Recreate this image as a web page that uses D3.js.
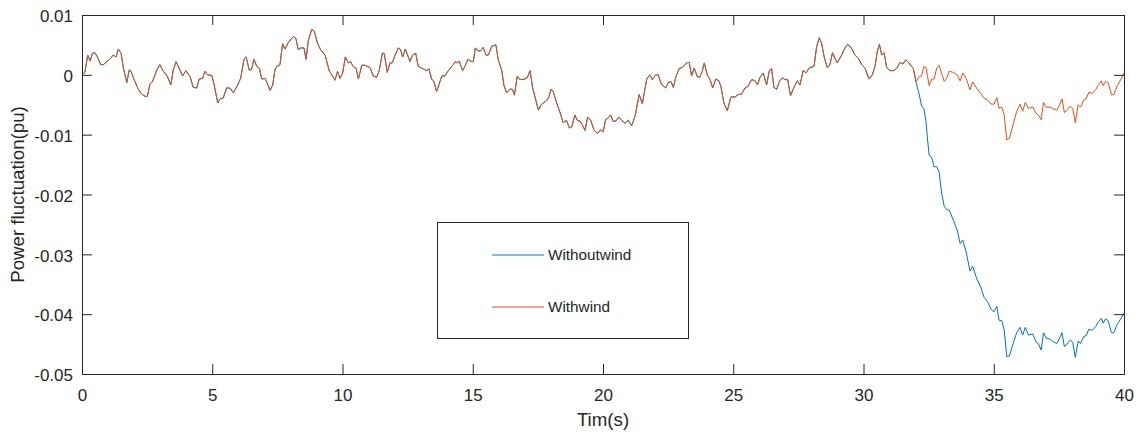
<!DOCTYPE html>
<html lang="en">
<head>
    <meta charset="UTF-8">
    <title>Power fluctuation</title>
    <script src="https://cdn.jsdelivr.net/npm/d3@7"></script>
    <style>
        body { margin: 0; background: #fff; }
        text { font-family: "Liberation Sans", Arial, Helvetica, sans-serif; fill: #262626; }
    </style>
</head>
<body>
<script>
    // shared part: both curves are the same until ~32 s
    let sharedTime = [0, 0.11, 0.22, 0.31, 0.4, 0.5, 0.59, 0.72, 0.82, 0.95, 1.07, 1.2, 1.31, 1.39, 1.5, 1.59, 1.72, 1.81, 1.88, 2.0,
        2.16, 2.29, 2.42, 2.51, 2.61, 2.71, 2.87, 2.99, 3.12, 3.27, 3.41, 3.5, 3.61, 3.73, 3.86, 3.99, 4.15, 4.27, 4.4, 4.5,
        4.63, 4.72, 4.82, 4.98, 5.06, 5.21, 5.3, 5.42, 5.55, 5.68, 5.81, 5.94, 6.09, 6.22, 6.3, 6.42, 6.51, 6.6, 6.71, 6.81,
        6.9, 7.03, 7.11, 7.22, 7.32, 7.41, 7.5, 7.6, 7.7, 7.79, 7.92, 8.11, 8.21, 8.3, 8.4, 8.52, 8.6, 8.69, 8.82, 8.92,
        9.03, 9.16, 9.33, 9.49, 9.71, 9.81, 9.9, 10.0, 10.11, 10.22, 10.31, 10.41, 10.52, 10.61, 10.74, 10.86, 11.06, 11.18, 11.31, 11.41,
        11.53, 11.6, 11.72, 11.82, 11.91, 12.02, 12.14, 12.23, 12.31, 12.41, 12.5, 12.59, 12.69, 12.81, 12.91, 13.1, 13.23, 13.32, 13.42, 13.51,
        13.61, 13.7, 13.81, 13.93, 14.06, 14.25, 14.32, 14.41, 14.48, 14.61, 14.7, 14.81, 14.92, 15.02, 15.1, 15.21, 15.3, 15.4, 15.51, 15.6,
        15.73, 15.89, 15.98, 16.11, 16.2, 16.3, 16.43, 16.52, 16.6, 16.71, 16.81, 17.0, 17.09, 17.2, 17.3, 17.52, 17.62, 17.84, 17.93, 18.0,
        18.09, 18.22, 18.35, 18.47, 18.6, 18.71, 18.8, 18.92, 19.01, 19.14, 19.31, 19.41, 19.53, 19.65, 19.78, 19.91, 20.01, 20.1, 20.2, 20.29,
        20.39, 20.5, 20.6, 20.72, 20.84, 20.97, 21.1, 21.23, 21.39, 21.51, 21.68, 21.8, 21.89, 22.02, 22.12, 22.23, 22.41, 22.51, 22.61, 22.7,
        22.8, 22.93, 23.04, 23.21, 23.31, 23.4, 23.5, 23.62, 23.72, 23.81, 23.89, 24.0, 24.11, 24.21, 24.33, 24.45, 24.53, 24.64, 24.77, 24.91,
        25.07, 25.19, 25.32, 25.45, 25.55, 25.71, 25.84, 25.93, 26.03, 26.15, 26.28, 26.38, 26.47, 26.56, 26.67, 26.77, 26.88, 26.99, 27.09, 27.2,
        27.33, 27.46, 27.56, 27.69, 27.79, 27.92, 28.1, 28.2, 28.3, 28.39, 28.49, 28.61, 28.71, 28.81, 28.9, 28.99, 29.16, 29.29, 29.39, 29.52,
        29.67, 29.8, 29.93, 30.06, 30.21, 30.34, 30.44, 30.53, 30.61, 30.7, 30.79, 30.89, 31.02, 31.15, 31.28, 31.4, 31.51, 31.62, 31.72, 31.85, 31.91];
    let sharedValue = [0, 0.0004, 0.0033, 0.0023, 0.0036, 0.0037, 0.003, 0.0017, 0.0017, 0.0022, 0.0026, 0.0033, 0.003, 0.0043, 0.0036, 0.0011, -0.0013, 0.0008, 0.0006, -0.0008,
        -0.0024, -0.0032, -0.0036, -0.0036, -0.0015, -0.0011, 0.0008, 0.0017, 0.0006, -0.0002, -0.0017, 0.0008, 0.0022, 0.0011, -0.0002, 0.0007, -0.0003, -0.0021, -0.0022, -0.0007,
        -0.0006, 0.0006, 0, -0.0001, -0.0014, -0.0047, -0.004, -0.0039, -0.0022, -0.0022, -0.003, -0.002, -0.0006, 0.0026, 0.003, 0.0008, 0.0009, 0.0026, 0.0014, 0.0011,
        -0.0007, -0.0006, -0.0014, -0.0026, -0.0017, 0.0009, 0.0015, 0.0017, 0.0052, 0.0043, 0.0054, 0.0064, 0.0061, 0.0042, 0.0045, 0.0045, 0.0026, 0.0058, 0.0076, 0.0073,
        0.0054, 0.0042, 0.0033, 0.0007, -0.0009, 0.0006, -0.0006, 0.0002, 0.003, 0.002, 0.0022, 0.0014, 0.0011, -0.0007, 0.0016, 0.0016, 0.0012, -0.0002, -0.0004, 0.0007,
        0.0036, 0.0036, 0.0004, 0.002, 0.002, 0.0033, 0.0045, 0.0042, 0.003, 0.0043, 0.0033, 0.0022, 0.0033, 0.0036, 0.0014, 0.001, 0.0007, 0.001, -0.0007, -0.0011,
        -0.0028, -0.0017, -0.0002, -0.0002, 0.0007, 0.0017, 0.0022, 0.002, 0.0023, 0.0007, 0.0014, 0.0026, 0.0023, 0.0022, 0.0045, 0.004, 0.004, 0.0046, 0.0033, 0.0033,
        0.0048, 0.005, 0.0025, 0.0008, -0.0018, -0.003, -0.0024, -0.0024, -0.0034, -0.0002, -0.0008, -0.0007, -0.0005, 0.0007, -0.0022, -0.0059, -0.005, -0.0043, -0.0036, -0.0024,
        -0.0028, -0.0047, -0.0063, -0.008, -0.0076, -0.0089, -0.0087, -0.0067, -0.0076, -0.0078, -0.0093, -0.0071, -0.0076, -0.0092, -0.0098, -0.0092, -0.0095, -0.0075, -0.0072, -0.0067,
        -0.0078, -0.0077, -0.0071, -0.0076, -0.0081, -0.0076, -0.0085, -0.0069, -0.0033, -0.0048, -0.0007, 0, -0.0008, 0, 0, -0.0015, -0.0022, -0.0013, -0.0011, -0.0021,
        -0.0003, 0.0011, 0.0012, 0.002, 0.0021, -0.0002, 0.0011, -0.0003, -0.0004, 0.0006, 0.002, 0, -0.0008, -0.0022, -0.0007, -0.001, -0.002, -0.0047, -0.006, -0.0037,
        -0.0037, -0.0033, -0.0032, -0.0022, -0.002, -0.0008, -0.001, -0.0017, -0.0004, 0.0003, -0.0017, 0.0006, 0.0011, -0.0021, -0.0024, -0.0011, -0.0005, -0.0008, -0.0008, -0.0035,
        -0.0021, -0.001, -0.0017, 0.0008, 0.0003, 0.0012, 0.0014, 0.0047, 0.0062, 0.0053, 0.003, 0.0012, 0.0017, 0.0037, 0.0028, 0.002, 0.0033, 0.0045, 0.0051, 0.0046,
        0.0033, 0.0028, 0.0017, 0.0011, -0.0007, 0, 0.0014, 0.0039, 0.0051, 0.0033, 0.0037, 0.0012, 0.0007, 0.0007, 0.0011, 0.0021, 0.0018, 0.0025, 0.0021, 0.0014, 0.0011];

    // after ~32 s the two cases split
    let tailTime = [32.02, 32.14, 32.23, 32.32, 32.4, 32.46, 32.52, 32.62, 32.71, 32.81, 32.9, 33.0, 33.1, 33.19, 33.29, 33.45, 33.6, 33.71, 33.81, 33.94,
        34.09, 34.19, 34.34, 34.5, 34.63, 34.76, 34.9, 35.01, 35.12, 35.2, 35.31, 35.4, 35.5, 35.6, 35.73, 35.88, 36.01, 36.11, 36.21, 36.33,
        36.5, 36.62, 36.71, 36.82, 36.91, 37.01, 37.17, 37.29, 37.42, 37.51, 37.62, 37.71, 37.81, 37.94, 38.03, 38.13, 38.24, 38.33, 38.46, 38.55,
        38.65, 38.78, 38.91, 39.03, 39.13, 39.2, 39.29, 39.39, 39.52, 39.61, 39.74, 39.89, 40.0];
    let withoutWind = [-0.0013, -0.0033, -0.0052, -0.0057, -0.0078, -0.0109, -0.0134, -0.0139, -0.0154, -0.0153, -0.0162, -0.0198, -0.022, -0.0225, -0.0226, -0.0243, -0.026, -0.0282, -0.0276, -0.0296,
        -0.0328, -0.032, -0.034, -0.0355, -0.0372, -0.0379, -0.0392, -0.0396, -0.0387, -0.041, -0.0411, -0.0426, -0.0471, -0.047, -0.0451, -0.0431, -0.0422, -0.0435, -0.0422, -0.0435,
        -0.0433, -0.0446, -0.0449, -0.046, -0.0431, -0.044, -0.0442, -0.0446, -0.0449, -0.0442, -0.0431, -0.0454, -0.045, -0.0443, -0.0447, -0.0472, -0.0445, -0.0449, -0.0437, -0.0436,
        -0.0425, -0.0427, -0.0421, -0.0412, -0.0407, -0.0415, -0.0408, -0.0411, -0.0431, -0.0431, -0.0417, -0.0407, -0.0398];
    let withWind = [-0.0011, -0.0003, -0.0002, 0.0014, 0.0012, -0.0003, -0.0018, -0.0007, -0.0007, 0.0011, 0.0016, 0.0002, -0.0011, -0.0006, 0.0006, 0.0004, 0, -0.001, 0.0003, -0.0006,
        -0.0025, -0.0012, -0.0022, -0.0031, -0.0039, -0.0042, -0.0049, -0.0049, -0.0038, -0.0056, -0.0054, -0.0067, -0.0109, -0.0106, -0.0085, -0.0061, -0.0049, -0.0061, -0.0046, -0.0056,
        -0.0054, -0.0064, -0.0067, -0.0075, -0.0046, -0.0054, -0.0054, -0.0057, -0.0059, -0.0052, -0.004, -0.0063, -0.0059, -0.0052, -0.0056, -0.008, -0.005, -0.0054, -0.0042, -0.004,
        -0.0029, -0.0031, -0.0025, -0.0016, -0.001, -0.0018, -0.0011, -0.0013, -0.0033, -0.0033, -0.0018, -0.0007, 0.0003];

    let xTicks = [0, 5, 10, 15, 20, 25, 30, 35, 40];
    let yTicks = [0.01, 0, -0.01, -0.02, -0.03, -0.04, -0.05];
    let seriesNames = ['Withoutwind', 'Withwind'];
    let seriesColors = ['#0072BD', '#D95319'];

    let width = 1141, height = 434;
    let plotL = 82, plotR = 1124, plotT = 15, plotB = 374;

    let x = d3.scaleLinear().domain([0, 40]).range([plotL, plotR]);
    let y = d3.scaleLinear().domain([-0.05, 0.01]).range([plotB, plotT]);

    let svg = d3.select('body').append('svg')
        .attr('width', width)
        .attr('height', height);

    let shared = sharedTime.map((t, i) => [t, sharedValue[i]]);
    let series = [
        shared.concat(tailTime.map((t, i) => [t, withoutWind[i]])),
        shared.concat(tailTime.map((t, i) => [t, withWind[i]]))
    ];

    let line = d3.line().x(d => x(d[0])).y(d => y(d[1]));

    series.forEach((s, i) => {
        svg.append('path')
            .datum(s)
            .attr('d', line)
            .attr('fill', 'none')
            .attr('stroke', seriesColors[i])
            .attr('stroke-width', 1);
    });

    // axes, ticks point inward like matlab
    let styleAxis = g => {
        g.select('.domain').attr('stroke', '#262626');
        g.selectAll('.tick line').attr('stroke', '#262626');
        g.selectAll('.tick text').attr('fill', '#262626').style('font-size', '17px')
            .style('font-family', '"Liberation Sans", Arial, sans-serif');
    };

    svg.append('g')
        .attr('transform', `translate(0,${plotB})`)
        .call(d3.axisBottom(x).tickValues(xTicks).tickSizeInner(-10).tickSizeOuter(0).tickPadding(15))
        .call(styleAxis);

    svg.append('g')
        .attr('transform', `translate(0,${plotT})`)
        .call(d3.axisTop(x).tickValues(xTicks).tickSizeInner(-10).tickSizeOuter(0).tickFormat(''))
        .call(styleAxis);

    svg.append('g')
        .attr('transform', `translate(${plotL},0)`)
        .call(d3.axisLeft(y).tickValues(yTicks).tickSizeInner(-10).tickSizeOuter(0).tickPadding(9)
            .tickFormat(d => d === 0 ? '0' : d3.format('.2f')(d).replace('−', '-')))
        .call(styleAxis)
        .selectAll('.tick text').attr('dy', '0.4em');

    svg.append('g')
        .attr('transform', `translate(${plotR},0)`)
        .call(d3.axisRight(y).tickValues(yTicks).tickSizeInner(-10).tickSizeOuter(0).tickFormat(''))
        .call(styleAxis);

    // axis labels
    svg.append('text')
        .attr('x', (plotL + plotR) / 2)
        .attr('y', 426)
        .attr('text-anchor', 'middle')
        .style('font-size', '18.7px')
        .text('Tim(s)');

    svg.append('text')
        .attr('transform', `translate(24,${(plotT + plotB) / 2}) rotate(-90)`)
        .attr('text-anchor', 'middle')
        .style('font-size', '18.7px')
        .text('Power fluctuation(pu)');

    // legend
    let legend = svg.append('g');
    legend.append('rect')
        .attr('x', 437.5).attr('y', 222.5)
        .attr('width', 251).attr('height', 116)
        .attr('fill', '#fff')
        .attr('stroke', '#262626')
        .attr('stroke-width', 1);

    seriesNames.forEach((name, i) => {
        let ly = 255 + i * 52;
        legend.append('line')
            .attr('x1', 492).attr('x2', 544)
            .attr('y1', ly).attr('y2', ly)
            .attr('stroke', seriesColors[i])
            .attr('stroke-width', 1);
        legend.append('text')
            .attr('x', 548)
            .attr('y', ly)
            .attr('dy', '0.35em')
            .style('font-size', '15.3px')
            .text(name);
    });
</script>
</body>
</html>
